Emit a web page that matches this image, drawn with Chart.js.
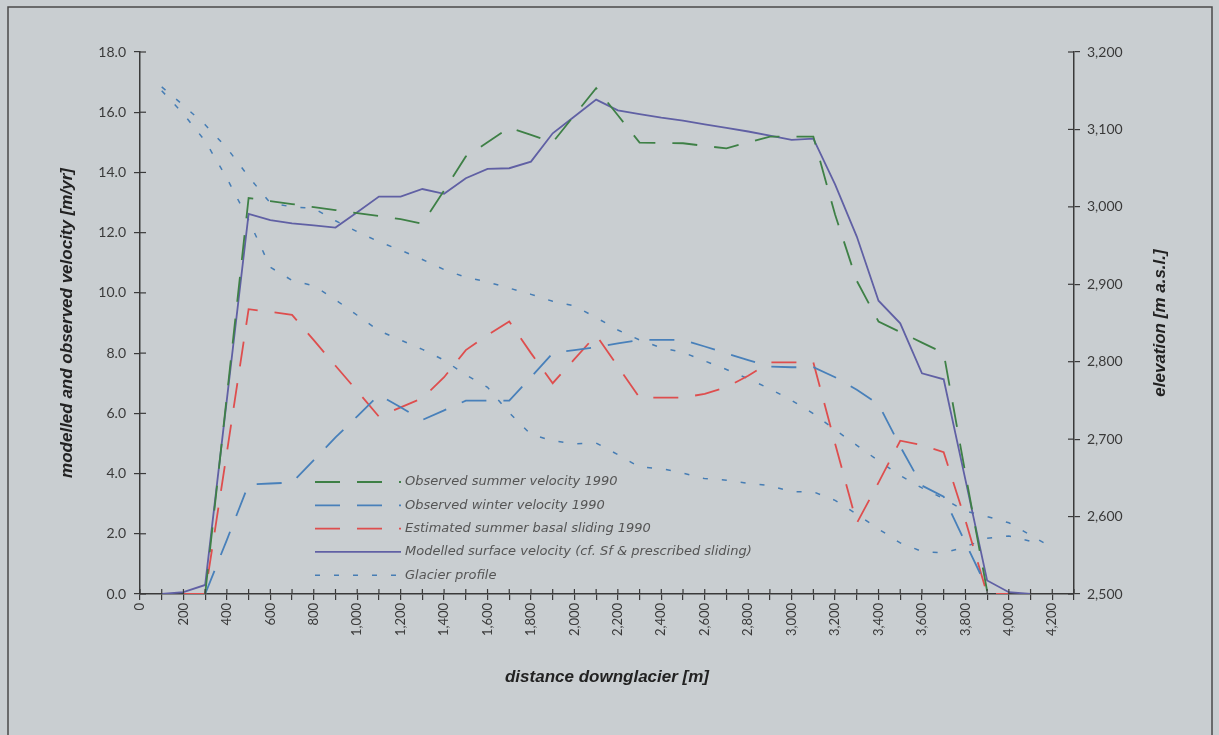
<!DOCTYPE html>
<html>
<head>
<meta charset="utf-8">
<script src="https://cdn.jsdelivr.net/npm/chart.js@4.4.0/dist/chart.umd.min.js"></script>
<style>
	body { margin: 0; background: #c9ced1; }
	#wrap { width: 1219px; height: 735px; }
</style>
</head>
<body>
<div id="wrap"><canvas id="myChart"></canvas></div>
<script>
// distance downglacier [m], one slot every 100 m
const distance = [0, 100, 200, 300, 400, 500, 600, 700, 800, 900, 1000, 1100, 1200, 1300, 1400, 1500, 1600, 1700, 1800, 1900, 2000, 2100, 2200, 2300, 2400, 2500, 2600, 2700, 2800, 2900, 3000, 3100, 3200, 3300, 3400, 3500, 3600, 3700, 3800, 3900, 4000, 4100, 4200];

// velocities [m/yr] (null = no vertex there)
const summerVelocity = [null, null, null, 0, null, 13.15, 13.05, 12.95, 12.85, 12.75, 12.65, 12.55, 12.45, 12.3, 13.4, 14.53, 15.0, 15.49, 15.25, 15.0, 15.9, 16.8, 15.9, 14.99, 14.98, 14.97, 14.88, 14.8, 15.0, 15.19, 15.19, 15.19, 12.6, 10.4, 9.05, 8.7, 8.35, 8.0, 4.0, 0.1, null, null, null];
const winterVelocity = [null, null, null, 0, 1.8, 3.64, 3.67, 3.7, 4.45, 5.2, 5.9, 6.61, 6.2, 5.78, 6.1, 6.42, 6.42, 6.42, 7.2, 8.0, 8.1, 8.2, 8.32, 8.44, 8.44, 8.44, 8.22, 7.99, 7.77, 7.55, 7.53, 7.53, 7.2, 6.78, 6.3, 4.9, 3.6, 3.23, 1.7, 0.2, null, null, null];
const basalSliding = [null, null, 0, 0, 4.7, 9.46, 9.37, 9.27, 8.43, 7.58, 6.74, 5.89, 6.2, 6.5, 7.2, 8.1, 8.6, 9.05, 8.0, 7.0, 7.8, 8.6, 7.56, 6.52, 6.52, 6.52, 6.65, 6.87, 7.25, 7.69, 7.69, 7.69, 5.0, 2.35, 3.7, 5.09, 4.95, 4.71, 2.45, 0, 0, null, null];
const modelledVelocity = [null, 0, 0.06, 0.3, null, 12.62, 12.42, 12.31, 12.24, 12.17, 12.68, 13.2, 13.2, 13.45, 13.29, 13.81, 14.12, 14.14, 14.36, 15.3, 15.86, 16.42, 16.06, 15.94, 15.82, 15.72, 15.6, 15.48, 15.36, 15.22, 15.08, 15.12, 13.6, 11.87, 9.74, 8.99, 7.33, 7.13, 3.8, 0.45, 0.06, 0, null];

// glacier profiles, elevation [m a.s.l.]
const profileUpper = [null, 3155, 3131, 3106, 3076, 3039, 3005, 3000, 2998, 2982, 2968, 2955, 2944, 2932, 2919, 2909, 2903, 2895, 2887, 2878, 2872, 2857, 2841, 2828, 2818, 2812, 2801, 2790, 2778, 2765, 2750, 2733, 2712, 2692, 2672, 2653, 2637, 2623, 2607, 2600, 2592, 2576, 2560];
const profileLower = [null, 3150, 3120, 3085, 3037, 2983, 2922, 2905, 2898, 2880, 2860, 2840, 2828, 2816, 2802, 2783, 2767, 2734, 2706, 2698, 2694, 2695, 2680, 2664, 2662, 2656, 2649, 2647, 2643, 2640, 2632, 2632, 2621, 2603, 2584, 2566, 2555, 2553, 2561, 2572, 2575, 2568, null];

const legendLabels = [
	"Observed summer velocity 1990",
	"Observed winter velocity 1990",
	"Estimated summer basal sliding 1990",
	"Modelled surface velocity (cf. Sf & prescribed sliding)",
	"Glacier profile",
];

const axisColor = "#3a3a3a";
const tickFont = "Lato";
const titleFont = "'Liberation Sans', Arial, sans-serif";

function toPoints(values) {
	const points = [];
	values.forEach((v, i) => {
		if (v !== null) points.push({ x: distance[i], y: v });
	});
	return points;
}

const frame = {
	id: "frame",
	beforeDraw(chart) {
		const ctx = chart.ctx;
		ctx.save();
		ctx.fillStyle = "#c9ced1";
		ctx.fillRect(0, 0, chart.width, chart.height);
		ctx.strokeStyle = "#4a4a4a";
		ctx.lineWidth = 1.5;
		// frame runs off the bottom of the picture
		ctx.strokeRect(8, 7, 1204, 740);
		ctx.restore();
	},
};

// ticks in the reference cross the axis line, add the inner half
const crossTicks = {
	id: "crossTicks",
	afterDraw(chart) {
		const { ctx, chartArea, scales } = chart;
		ctx.save();
		ctx.strokeStyle = axisColor;
		ctx.lineWidth = 1.2;
		scales.x.ticks.forEach((t) => {
			const px = scales.x.getPixelForValue(t.value);
			ctx.beginPath();
			ctx.moveTo(px, chartArea.bottom);
			ctx.lineTo(px, chartArea.bottom - 5);
			ctx.stroke();
		});
		scales.y.ticks.forEach((t) => {
			const py = scales.y.getPixelForValue(t.value);
			ctx.beginPath();
			ctx.moveTo(chartArea.left, py);
			ctx.lineTo(chartArea.left + 6, py);
			ctx.stroke();
		});
		scales.y2.ticks.forEach((t) => {
			const py = scales.y2.getPixelForValue(t.value);
			ctx.beginPath();
			ctx.moveTo(chartArea.right, py);
			ctx.lineTo(chartArea.right - 6, py);
			ctx.stroke();
		});

		// right axis title reads bottom to top
		ctx.translate(1160, (chartArea.top + chartArea.bottom) / 2);
		ctx.rotate(-Math.PI / 2);
		ctx.fillStyle = "#222";
		ctx.font = "italic bold 17px " + titleFont;
		ctx.textAlign = "center";
		ctx.textBaseline = "middle";
		ctx.fillText("elevation [m a.s.l.]", 0, 0);
		ctx.restore();
	},
};

// legend sits inside the plot, lower left
const innerLegend = {
	id: "innerLegend",
	afterDatasetsDraw(chart) {
		const ctx = chart.ctx;
		ctx.save();
		legendLabels.forEach((label, i) => {
			const ds = chart.data.datasets[i];
			const y = 482 + i * 23.3;
			ctx.strokeStyle = ds.borderColor;
			ctx.lineWidth = ds.borderWidth;
			ctx.setLineDash(ds.borderDash || []);
			ctx.beginPath();
			ctx.moveTo(315, y);
			ctx.lineTo(401, y);
			ctx.stroke();
			ctx.setLineDash([]);
			ctx.fillStyle = "#555";
			ctx.font = "oblique 13px 'DejaVu Sans'";
			ctx.textAlign = "left";
			ctx.textBaseline = "middle";
			ctx.fillText(label, 405, y);
		});
		ctx.restore();
	},
};

const ctx = document.getElementById("myChart").getContext("2d");

const myChart = new Chart(ctx, {
	type: "line",
	data: {
		datasets: [
			{
				label: legendLabels[0],
				data: toPoints(summerVelocity),
				borderColor: "rgb(62, 128, 70)",
				borderWidth: 1.8,
				borderDash: [25, 17],
				yAxisID: "y",
			},
			{
				label: legendLabels[1],
				data: toPoints(winterVelocity),
				borderColor: "rgb(72, 128, 186)",
				borderWidth: 1.8,
				borderDash: [25, 17],
				yAxisID: "y",
			},
			{
				label: legendLabels[2],
				data: toPoints(basalSliding),
				borderColor: "rgb(222, 78, 78)",
				borderWidth: 1.8,
				borderDash: [25, 17],
				yAxisID: "y",
			},
			{
				label: legendLabels[3],
				data: toPoints(modelledVelocity),
				borderColor: "rgb(96, 96, 164)",
				borderWidth: 1.8,
				yAxisID: "y",
			},
			{
				label: legendLabels[4],
				data: toPoints(profileUpper),
				borderColor: "rgb(70, 125, 180)",
				borderWidth: 1.5,
				borderDash: [5, 14],
				yAxisID: "y2",
			},
			{
				label: "Glacier profile (2)",
				data: toPoints(profileLower),
				borderColor: "rgb(70, 125, 180)",
				borderWidth: 1.5,
				borderDash: [5, 14],
				yAxisID: "y2",
			},
		],
	},
	options: {
		responsive: true,
		maintainAspectRatio: false,
		animation: false,
		layout: { padding: { top: 52, left: 0, right: 0, bottom: 0 } },
		elements: {
			point: { radius: 0 },
			line: { tension: 0, fill: false },
		},
		plugins: {
			legend: { display: false },
			tooltip: { enabled: false },
		},
		scales: {
			x: {
				type: "linear",
				min: 0,
				max: 4300,
				afterFit: (scale) => { scale.height = 141; },
				ticks: {
					stepSize: 100,
					autoSkip: false,
					minRotation: 90,
					maxRotation: 90,
					padding: 3,
					color: axisColor,
					font: { family: tickFont, size: 13 },
					callback: (v) => (v % 200 === 0 && v <= 4200 ? v.toLocaleString("en-US") : ""),
				},
				grid: { drawOnChartArea: false, tickLength: 6, color: axisColor, lineWidth: 1.2 },
				border: { color: axisColor, width: 1.5 },
				title: {
					display: true,
					text: "distance downglacier [m]",
					color: "#222",
					font: { family: titleFont, size: 17, style: "italic", weight: "bold" },
					padding: { top: 0, bottom: 47 },
				},
			},
			y: {
				position: "left",
				min: 0,
				max: 18,
				afterFit: (scale) => { scale.width = 140; },
				ticks: {
					stepSize: 2,
					padding: 8,
					color: axisColor,
					font: { family: tickFont, size: 14 },
					callback: (v) => v.toFixed(1),
				},
				grid: { drawOnChartArea: false, tickLength: 6, color: axisColor, lineWidth: 1.2 },
				border: { color: axisColor, width: 1.5 },
				title: {
					display: true,
					text: "modelled and observed velocity [m/yr]",
					color: "#222",
					font: { family: titleFont, size: 17, style: "italic", weight: "bold" },
					padding: { top: 57, bottom: 0 },
				},
			},
			y2: {
				position: "right",
				min: 2500,
				max: 3200,
				afterFit: (scale) => { scale.width = 145; },
				ticks: {
					stepSize: 100,
					padding: 7,
					color: axisColor,
					font: { family: tickFont, size: 14 },
					callback: (v) => v.toLocaleString("en-US"),
				},
				grid: { drawOnChartArea: false, tickLength: 6, color: axisColor, lineWidth: 1.2 },
				border: { color: axisColor, width: 1.5 },
			},
		},
	},
	plugins: [frame, crossTicks, innerLegend],
});
</script>
</body>
</html>
